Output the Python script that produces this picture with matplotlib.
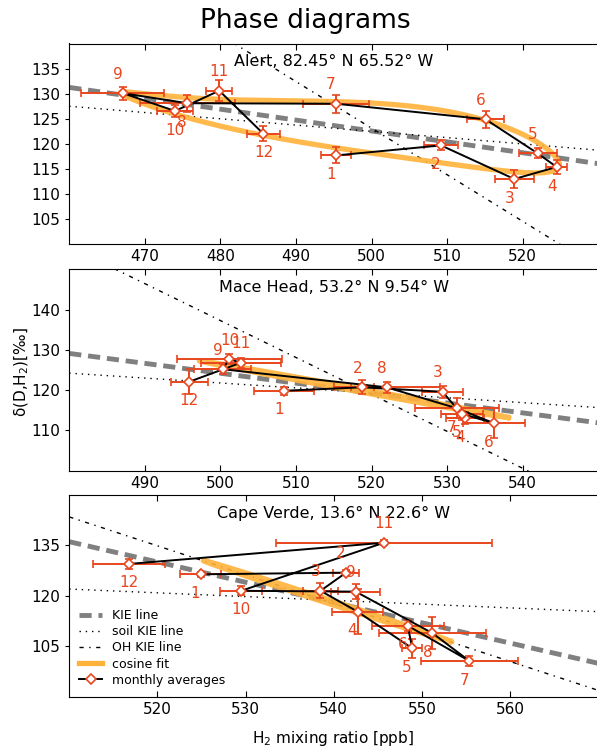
import numpy as np
import matplotlib.pyplot as plt
from matplotlib.lines import Line2D

months = np.arange(1, 13)

# monthly averages: H2 mixing ratio [ppb], dD [permil] and their errors
alert_h2 = [495.3, 509.2, 518.9, 524.5, 522.0, 515.1, 495.3, 475.6, 467.1, 474.0, 479.85, 485.7]
alert_dd = [117.7, 119.7, 113.0, 115.4, 118.1, 124.9, 128.0, 128.1, 130.1, 126.55, 130.6, 122.0]
alert_h2_err = [2.0, 2.2, 2.6, 1.4, 2.5, 2.5, 4.4, 6.3, 5.5, 2.4, 1.7, 2.2]
alert_dd_err = [1.6, 1.0, 1.8, 1.3, 1.0, 1.7, 1.8, 1.65, 1.26, 1.2, 2.1, 1.5]

mace_h2 = [508.4, 518.8, 529.4, 532.4, 532.0, 536.2, 531.3, 522.0, 500.3, 501.2, 502.7, 495.9]
mace_dd = [119.85, 120.7, 119.6, 113.0, 114.1, 111.8, 115.5, 120.7, 125.2, 127.7, 126.8, 122.1]
mace_h2_err = [4.0, 1.5, 2.7, 2.5, 2.8, 4.1, 5.6, 7.0, 3.8, 7.0, 5.3, 2.45]
mace_dd_err = [1.0, 1.75, 1.5, 1.5, 1.5, 3.8, 2.5, 1.4, 1.3, 1.2, 1.2, 3.1]

cape_h2 = [524.9, 541.4, 538.5, 542.7, 548.9, 548.4, 555.4, 551.2, 542.5, 529.5, 545.7, 516.8]
cape_dd = [126.4, 126.9, 121.5, 115.3, 104.4, 111.1, 100.6, 108.9, 121.25, 121.5, 135.8, 129.5]
cape_h2_err = [2.3, 1.5, 2.0, 2.9, 1.1, 4.1, 5.5, 6.1, 2.8, 2.4, 12.2, 4.05]
cape_dd_err = [0.8, 0.8, 2.2, 6.8, 2.8, 1.7, 1.4, 4.8, 2.3, 1.3, 0.8, 1.5]

# cosine fit:
# x: centre, amplitude; y: mean, cos t, cos 2t, cos 3t, sin t, sin 2t
alert_fit_x = [495.8, 29.0]
alert_fit_y = [123.4, -6.35, -0.35, -0.8, 4.65, 1.35]
mace_fit_x = [517.65, 20.45]
mace_fit_y = [120.25, -7.05, 0.0, 0.0, 0.4, 0.0]
cape_fit_x = [539.25, 14.05]
cape_fit_y = [118.45, -12.05, 0.0, 0.0, 0.6, 0.0]

# KIE lines: common point (x, y) and slopes for KIE, soil KIE, OH KIE
alert_kie = [500.8, 122.4, -0.217, -0.125, -0.928]
mace_kie = [519.5, 119.4, -0.246, -0.122, -0.917]
cape_kie = [538.7, 118.8, -0.603, -0.112, -0.86]

RED = '#e8461e'
ORANGE = '#ffb23a'
KIE_LS = (0, (2.5, 1.4))
SOIL_LS = (0, (1, 3.5))
OH_LS = (0, (3, 4, 1, 4))


def plot_site(ax, h2, dd, h2_err, dd_err, fit_x, fit_y, kie, lab_dir,
              xlim, ylim, xticks, yticks, title):
    x = np.array(xlim, dtype=float)
    x0, y0, s_kie, s_soil, s_oh = kie
    ax.plot(x, y0 + s_kie * (x - x0), color='gray', lw=3.5, ls=KIE_LS, zorder=1)
    ax.plot(x, y0 + s_soil * (x - x0), color='k', lw=1.0, ls=SOIL_LS, zorder=1)
    ax.plot(x, y0 + s_oh * (x - x0), color='k', lw=1.0, ls=OH_LS, zorder=1)

    # cosine fit
    t = np.linspace(0, 2 * np.pi, 400)
    fx = fit_x[0] + fit_x[1] * np.cos(t)
    fy = (fit_y[0] + fit_y[1] * np.cos(t) + fit_y[2] * np.cos(2 * t) + fit_y[3] * np.cos(3 * t)
          + fit_y[4] * np.sin(t) + fit_y[5] * np.sin(2 * t))
    ax.plot(fx, fy, color=ORANGE, lw=3.8, alpha=0.9, zorder=2)

    ax.errorbar(h2, dd, xerr=h2_err, yerr=dd_err, fmt='none', ecolor=RED,
                elinewidth=1.4, capsize=3, capthick=1.2, zorder=3)
    ax.plot(h2, dd, color='k', lw=1.4, zorder=4)
    ax.plot(h2, dd, 'D', mfc='w', mec=RED, ms=5.5, mew=1.2, zorder=5)

    for m, xx, yy, d in zip(months, h2, dd, lab_dir):
        dx = -3.6 if m < 10 else 0
        ax.annotate(str(m), (xx, yy), xytext=(dx, 13.7 * d), textcoords='offset points',
                    ha='center', va='center', color=RED, fontsize=11, zorder=6)

    ax.text(0.5, 0.91, title, transform=ax.transAxes, ha='center', va='center', fontsize=11.5)
    ax.set_xlim(xlim)
    ax.set_ylim(ylim)
    ax.set_xticks(xticks)
    ax.set_yticks(yticks)
    ax.spines['right'].set_visible(False)
    ax.tick_params(axis='x', direction='in', top=True, length=4, labelsize=11)
    ax.tick_params(axis='y', direction='out', length=3, labelsize=11)


fig = plt.figure(figsize=(5.97, 7.5), dpi=100)
left, width = 0.116, 0.886
ax1 = fig.add_axes([left, 0.6743, width, 0.2677])
ax2 = fig.add_axes([left, 0.3724, width, 0.2685])
ax3 = fig.add_axes([left, 0.0711, width, 0.2689])

plot_site(ax1, alert_h2, alert_dd, alert_h2_err, alert_dd_err, alert_fit_x, alert_fit_y, alert_kie,
          [-1, -1, -1, -1, 1, 1, 1, -1, 1, -1, 1, -1],
          (460, 530), (100, 140), np.arange(470, 521, 10), np.arange(105, 140, 5),
          'Alert, 82.45° N 65.52° W')
plot_site(ax2, mace_h2, mace_dd, mace_h2_err, mace_dd_err, mace_fit_x, mace_fit_y, mace_kie,
          [-1, 1, 1, -1, -1, -1, -1, 1, 1, 1, 1, -1],
          (480, 550), (100, 150), np.arange(490, 541, 10), np.arange(110, 150, 10),
          'Mace Head, 53.2° N 9.54° W')
plot_site(ax3, cape_h2, cape_dd, cape_h2_err, cape_dd_err, cape_fit_x, cape_fit_y, cape_kie,
          [-1, 1, 1, -1, -1, -1, -1, -1, 1, -1, 1, -1],
          (510, 570), (90, 150), np.arange(520, 561, 10), [105, 120, 135],
          'Cape Verde, 13.6° N 22.6° W')

handles = [
    Line2D([], [], color='gray', lw=3.5, ls=KIE_LS),
    Line2D([], [], color='k', lw=1.0, ls=SOIL_LS),
    Line2D([], [], color='k', lw=1.0, ls=OH_LS),
    Line2D([], [], color=ORANGE, lw=3.8),
    Line2D([], [], color='k', lw=1.4, marker='D', mfc='w', mec=RED, ms=5.5, mew=1.2),
]
labels = ['KIE line', 'soil KIE line', 'OH KIE line', 'cosine fit', 'monthly averages']
ax3.legend(handles, labels, loc='lower left', frameon=False, fontsize=9,
           handlelength=1.8, labelspacing=0.25, borderaxespad=0.4)

fig.text(305 / 597, 1 - 21 / 750, 'Phase diagrams', ha='center', va='center', fontsize=19)
fig.text(0.037, 1 - 372 / 750, 'δ(D,H$_2$)[‰]', rotation=90, ha='center', va='center', fontsize=11)
fig.text(333 / 597, 1 - 738 / 750, 'H$_2$ mixing ratio [ppb]', ha='center', va='center', fontsize=11)

fig.savefig('out.png', dpi=100)
